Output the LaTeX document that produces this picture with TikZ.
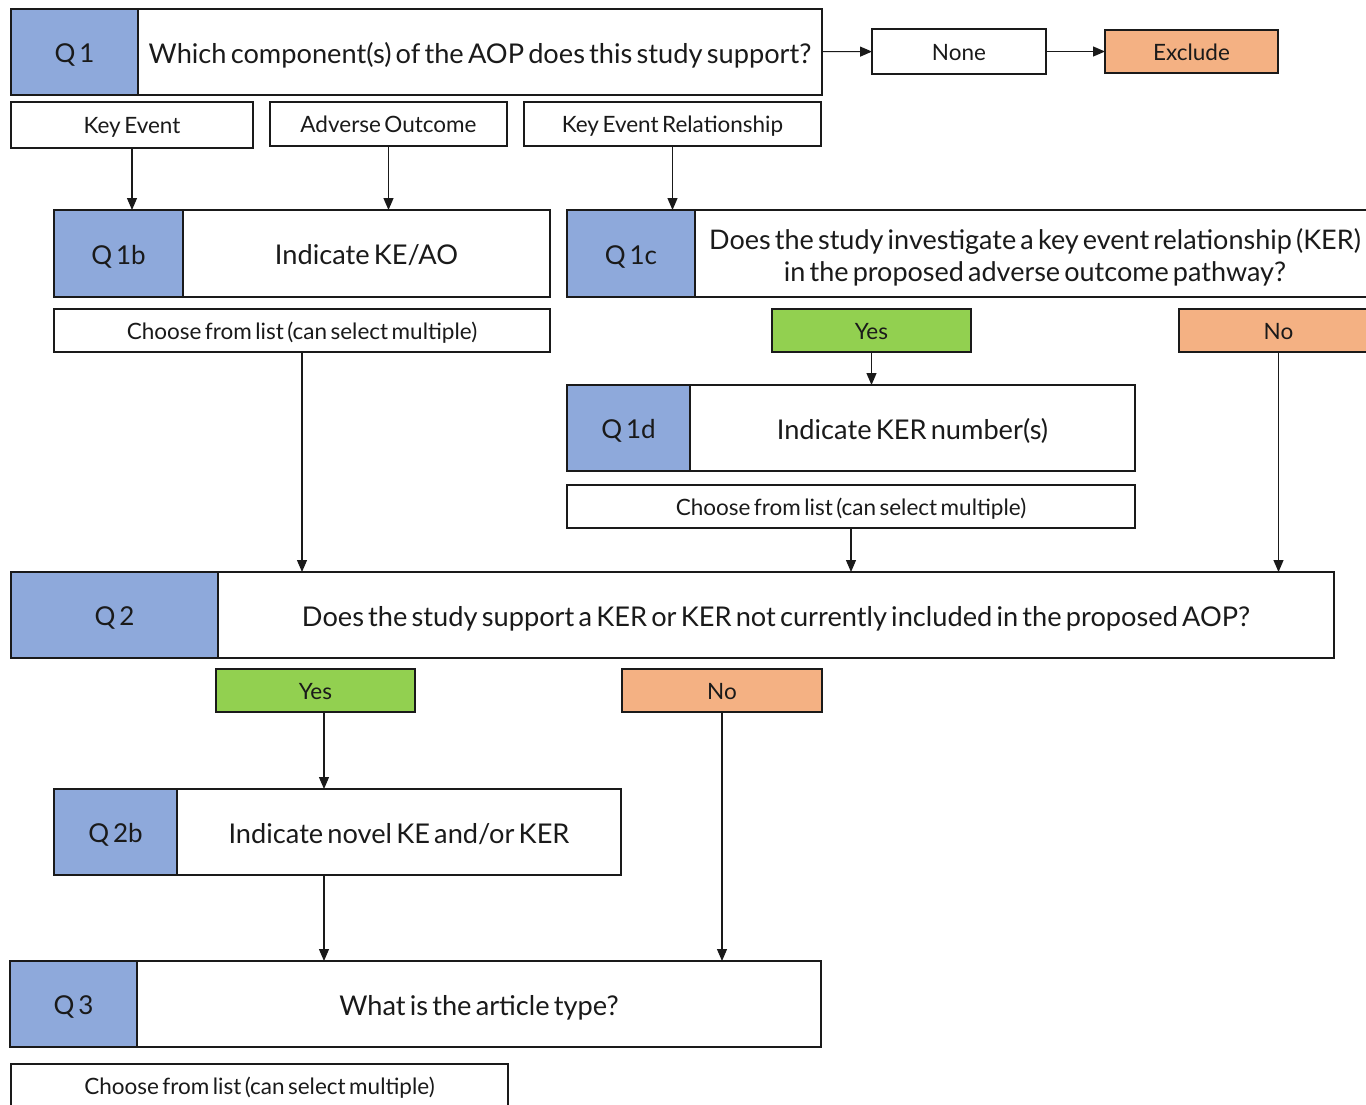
\documentclass[tikz,border=0pt]{standalone}
\usepackage{fontspec}
\setmainfont{Lato}[WordSpace=0.6]
\usetikzlibrary{arrows.meta}
\definecolor{qblue}{HTML}{8EA9DB}
\definecolor{okgreen}{HTML}{92D050}
\definecolor{nopeach}{HTML}{F4B183}
\definecolor{ink}{HTML}{1A1A1A}
\begin{document}
\begin{tikzpicture}[x=1pt,y=-1pt,
  base/.style={draw=ink, text=ink, anchor=north west, inner sep=0pt, outer sep=0pt},
  qlab/.style={base, line width=2.4pt, fill=qblue, font=\fontsize{26}{30}\selectfont, text height=21.5pt, text depth=0pt},
  qtxt/.style={base, line width=2.4pt, fill=white, font=\fontsize{27.2}{32}\selectfont, text height=22.5pt, text depth=0pt},
  qtwo/.style={base, line width=2.4pt, fill=white},
  opt/.style={base, line width=1.4pt, fill=white, font=\fontsize{22.5}{26}\selectfont, text height=17pt, text depth=0pt},
  yesbox/.style={opt, fill=okgreen},
  nobox/.style={opt, fill=nopeach},
  arr/.style={draw=ink, line width=1.2pt, -{Triangle[length=12pt,width=10pt]}}]
\useasboundingbox (0,0) rectangle (1366,1104);
\clip (0,0) rectangle (1366,1104);

% Q1 and its answers
\node[qlab, minimum width=127pt, minimum height=86pt] (q1l) at (11,9) {Q 1};
\node[qtxt, minimum width=684pt, minimum height=86pt] (q1) at (138,9) {Which component(s) of the AOP does this study support?};
\node[opt, minimum width=174pt, minimum height=45pt] (none) at (872,29) {None};
\node[nobox, minimum width=173pt, minimum height=43pt] (excl) at (1105,30) {Exclude};
\node[opt, minimum width=242pt, minimum height=46pt] (ke) at (11,102) {Key Event};
\node[opt, minimum width=237pt, minimum height=44pt] (ao) at (270,102) {Adverse Outcome};
\node[opt, minimum width=297pt, minimum height=44pt] (ker) at (524,102) {Key Event Relationship};

% Q1b
\node[qlab, minimum width=129pt, minimum height=87pt] (q1bl) at (54,210) {Q 1b};
\node[qtxt, minimum width=367pt, minimum height=87pt] (q1b) at (183,210) {Indicate KE/AO};
\node[opt, minimum width=496pt, minimum height=43pt] (list1) at (54,309) {Choose from list (can select multiple)};

% Q1c (two-line question set as a centred label)
\node[qlab, minimum width=128pt, minimum height=87pt] (q1cl) at (567,210) {Q 1c};
\node[qtwo, minimum width=680pt, minimum height=87pt,
  label={[font=\fontsize{27}{32}\selectfont, text=ink, align=center, yshift=-4pt]center:Does the study investigate a key event relationship (KER)\\in the proposed adverse outcome pathway?}] (q1c) at (695,210) {};
\node[yesbox, minimum width=199pt, minimum height=43pt] (yes1) at (772,309) {Yes};
\node[nobox, minimum width=199pt, minimum height=43pt] (no1) at (1179,309) {No};

% Q1d
\node[qlab, minimum width=123pt, minimum height=86pt] (q1dl) at (567,385) {Q 1d};
\node[qtxt, minimum width=445pt, minimum height=86pt] (q1d) at (690,385) {Indicate KER number(s)};
\node[opt, minimum width=568pt, minimum height=43pt] (list2) at (567,485) {Choose from list (can select multiple)};

% Q2
\node[qlab, minimum width=207pt, minimum height=86pt] (q2l) at (11,572) {Q 2};
\node[qtxt, minimum width=1116pt, minimum height=86pt] (q2) at (218,572) {Does the study support a KER or KER not currently included in the proposed AOP?};
\node[yesbox, minimum width=199pt, minimum height=43pt] (yes2) at (216,669) {Yes};
\node[nobox, minimum width=200pt, minimum height=43pt] (no2) at (622,669) {No};

% Q2b
\node[qlab, minimum width=123pt, minimum height=86pt] (q2bl) at (54,789) {Q 2b};
\node[qtxt, minimum width=444pt, minimum height=86pt] (q2b) at (177,789) {Indicate novel KE and/or KER};

% Q3
\node[qlab, minimum width=127pt, minimum height=86pt] (q3l) at (10,961) {Q 3};
\node[qtxt, minimum width=684pt, minimum height=86pt] (q3) at (137,961) {What is the article type?};
\node[opt, minimum width=497pt, minimum height=44pt] (list3) at (11,1064) {Choose from list (can select multiple)};

% connectors
\draw[arr] (q1) -- (none);
\draw[arr] (none) -- (excl);
\draw[arr] (ke.south) -- (ke.south |- q1bl.north);
\draw[arr] (ao.south) -- (ao.south |- q1b.north);
\draw[arr] (ker.south) -- (ker.south |- q1cl.north);
\draw[arr] (yes1.south) -- (yes1.south |- q1d.north);
\draw[arr] (list1.south) -- (list1.south |- q2.north);
\draw[arr] (list2.south) -- (list2.south |- q2.north);
\draw[arr] (no1.south) -- (no1.south |- q2.north);
\coordinate (yes2out) at ([xshift=8.5pt]yes2.south);
\draw[arr] (yes2out) -- (yes2out |- q2b.north);
\coordinate (q2bout) at (q2b.south -| yes2out);
\draw[arr] (q2bout) -- (q2bout |- q3.north);
\draw[arr] (no2.south) -- (no2.south |- q3.north);
\end{tikzpicture}
\end{document}
